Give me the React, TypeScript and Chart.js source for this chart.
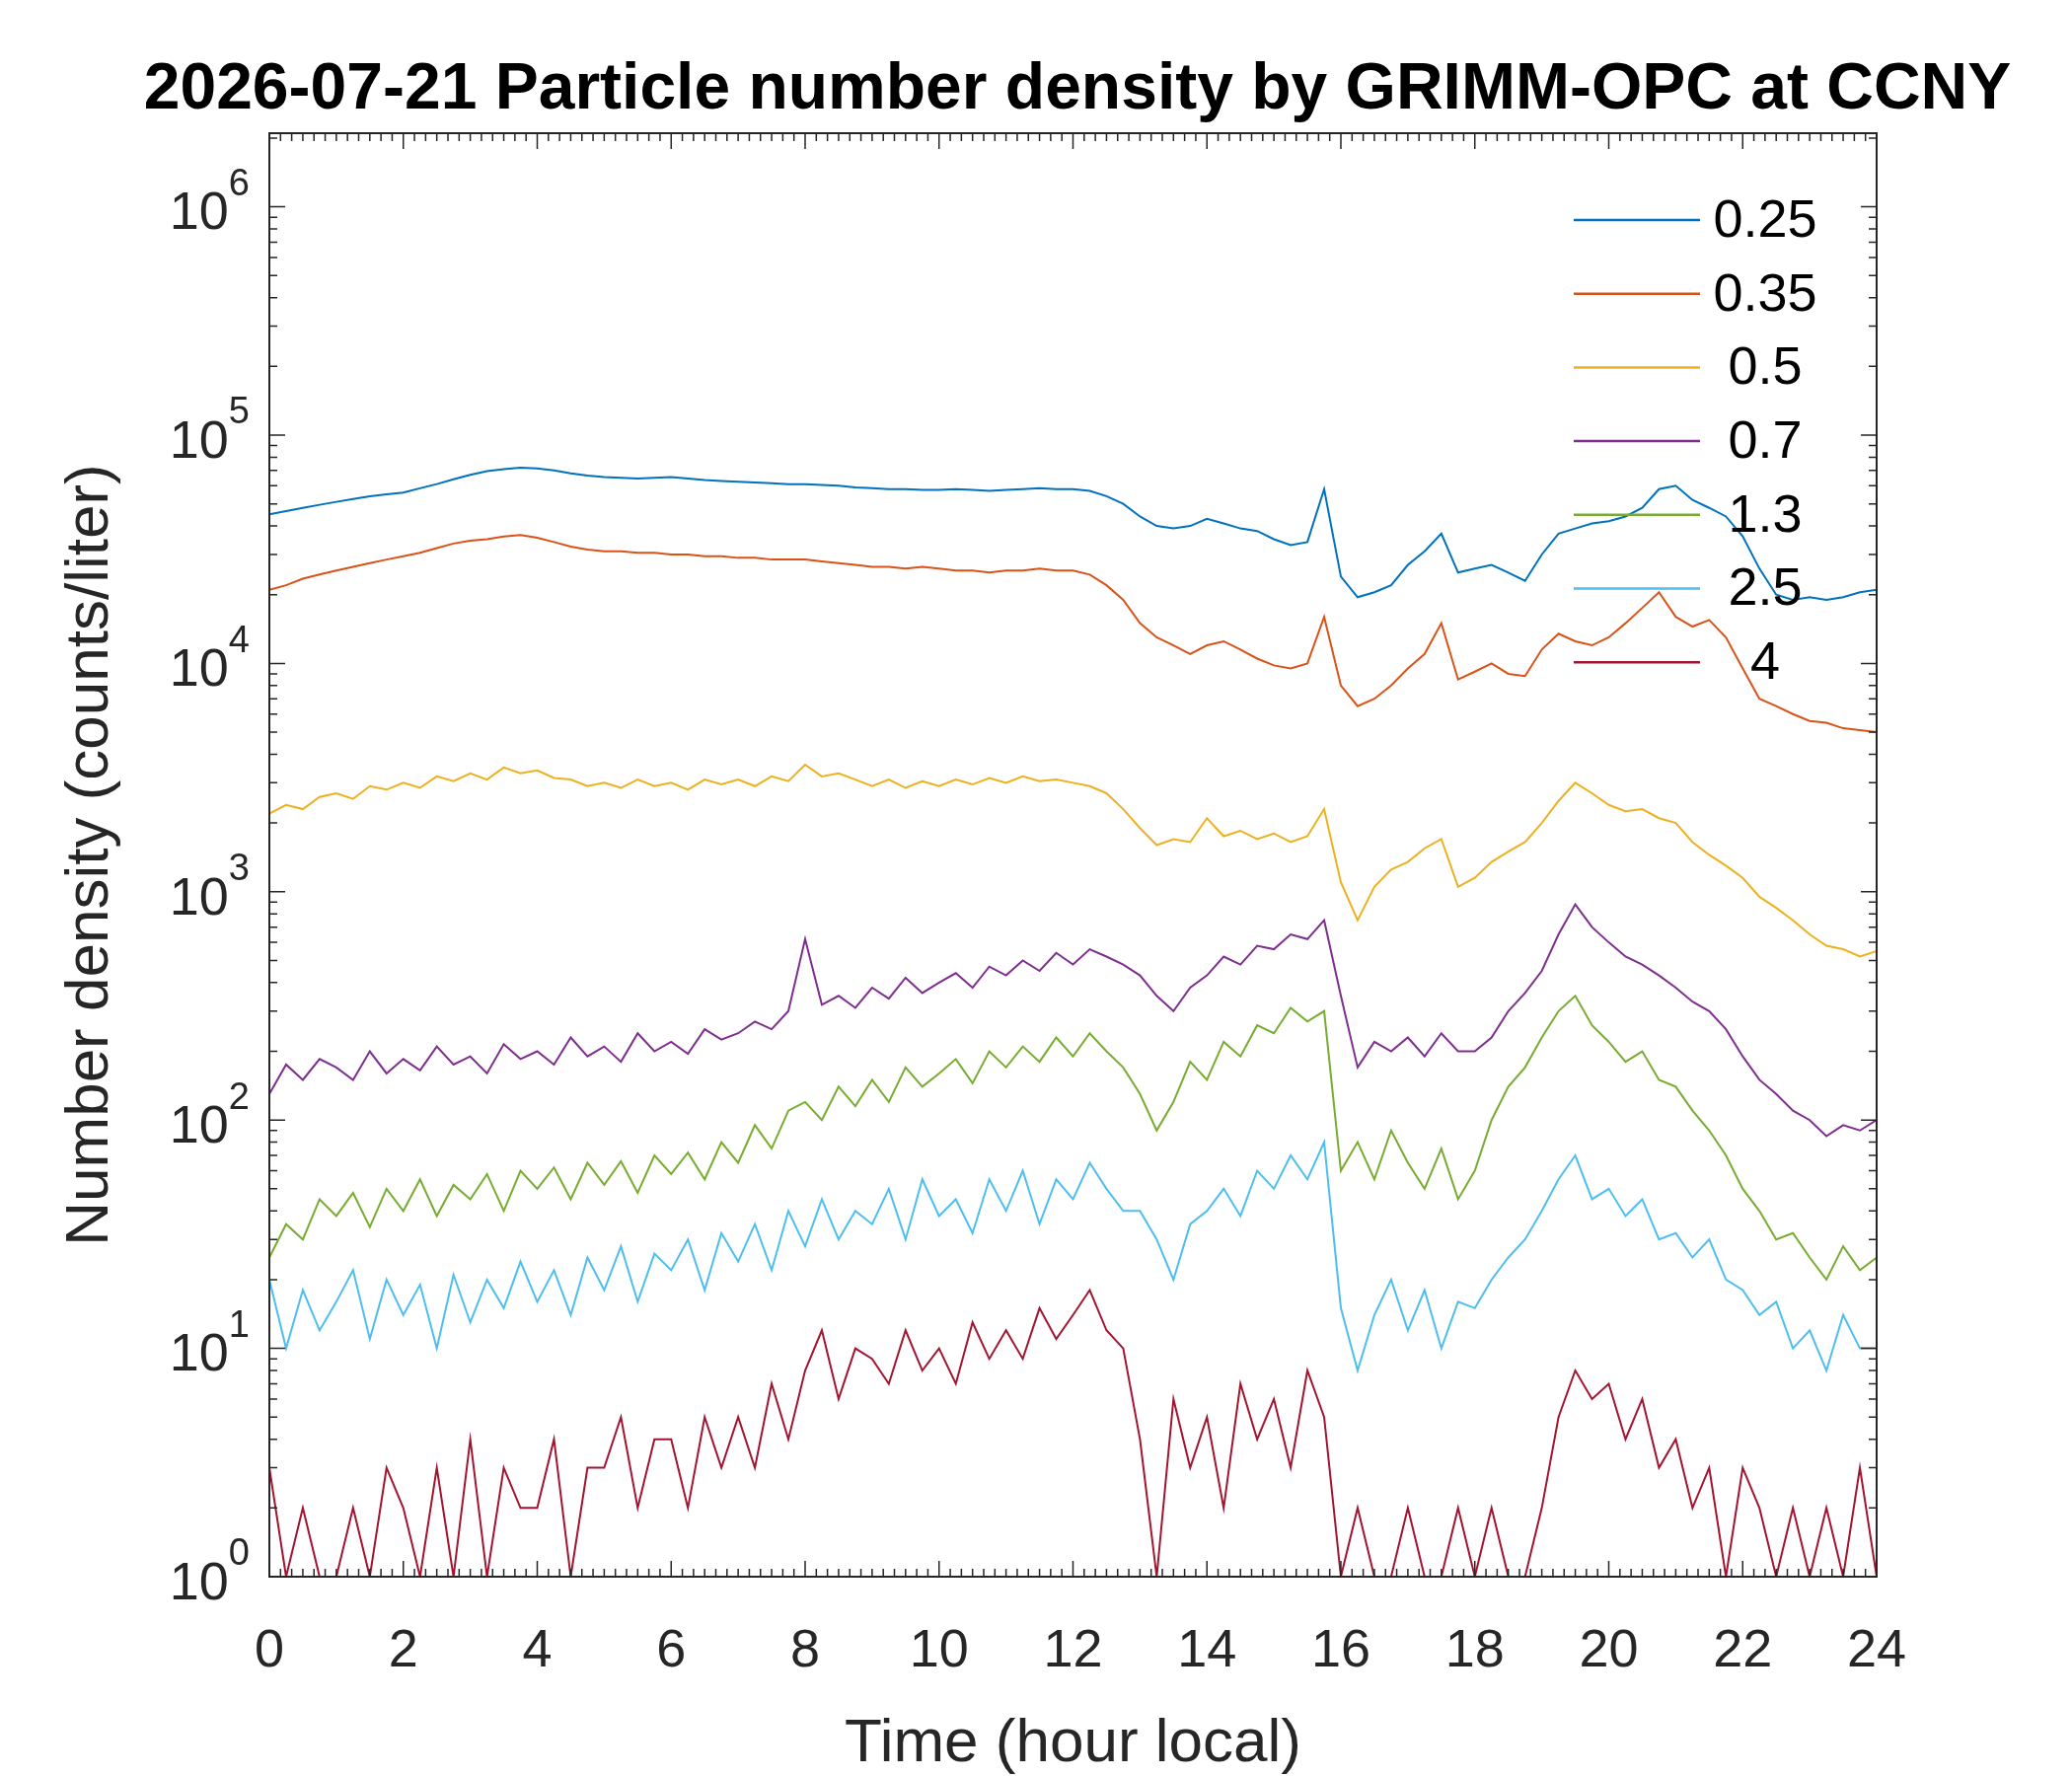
import React, { useEffect, useRef } from "react";
import { Chart, registerables } from "chart.js";
Chart.register(...registerables);

const hours: number[] = Array.from({ length: 97 }, (_, i) => i * 0.25);
const sizeLabels = ["0.25", "0.35", "0.5", "0.7", "1.3", "2.5", "4"];
const colors = ["#0072BD", "#D95319", "#EDB120", "#7E2F8E", "#77AC30", "#4DBEEE", "#A2142F"];
const xTicks = [0, 2, 4, 6, 8, 10, 12, 14, 16, 18, 20, 22, 24];
const yDecades = [0, 1, 2, 3, 4, 5, 6];

const s025 = [45000,46500,48000,49500,51000,52500,54000,55000,56000,58500,61000,64000,67000,69500,71000,72000,71500,70000,68000,66500,65500,65000,64500,65000,65500,64500,63500,63000,62500,62000,61500,61000,61000,60500,60000,59000,58500,58000,58000,57500,57500,58000,57500,57000,57500,58000,58500,58000,58000,57000,54000,50000,44000,40000,39000,40000,43000,41000,39000,38000,35000,33000,34000,58000,24000,19500,20500,22000,27000,31000,37000,25000,26000,27000,25000,23000,30000,37000,39000,41000,42000,44000,48000,58000,60000,52000,48000,44000,36000,26000,20000,19000,19500,19000,19500,20500,21000];
const s035 = [21000,22000,23500,24500,25500,26500,27500,28500,29500,30500,32000,33500,34500,35000,36000,36500,35500,34000,32500,31500,31000,31000,30500,30500,30000,30000,29500,29500,29000,29000,28500,28500,28500,28000,27500,27000,26500,26500,26000,26500,26000,25500,25500,25000,25500,25500,26000,25500,25500,24500,22000,19000,15000,13000,12000,11000,12000,12500,11500,10500,9800,9500,10000,16000,8000,6500,7000,8000,9500,11000,15000,8500,9200,10000,9000,8800,11500,13500,12500,12000,13000,15000,17500,20500,16000,14500,15500,13000,9500,7000,6500,6000,5600,5500,5200,5100,5000];
const s05 = [2200,2400,2300,2600,2700,2550,2900,2800,3000,2850,3200,3050,3300,3100,3500,3300,3400,3150,3100,2900,3000,2850,3100,2900,3000,2800,3100,2950,3100,2900,3200,3050,3600,3200,3300,3100,2900,3100,2850,3050,2900,3100,2950,3150,3000,3200,3050,3100,3000,2900,2700,2300,1900,1600,1700,1650,2100,1750,1850,1700,1800,1650,1750,2300,1100,750,1050,1250,1350,1550,1700,1050,1150,1350,1500,1650,2000,2500,3000,2700,2400,2250,2300,2100,2000,1650,1450,1300,1150,950,850,750,650,580,560,520,550];
const s07 = [130,175,150,185,170,150,200,160,185,165,210,175,190,160,215,185,200,175,230,190,210,180,240,200,220,195,250,225,240,270,250,300,620,320,350,310,380,340,420,360,400,440,380,470,430,500,450,540,480,560,520,480,430,350,300,380,430,520,480,580,560,650,620,750,350,170,220,200,230,190,240,200,200,230,300,360,450,650,880,700,600,520,480,430,380,330,300,250,190,150,130,110,100,85,95,90,100];
const s13 = [25,35,30,45,38,48,34,50,40,55,38,52,45,58,40,60,50,62,45,65,52,66,48,70,58,72,55,80,65,95,75,110,120,100,140,115,150,120,170,140,160,185,145,200,170,210,180,230,190,240,200,170,130,90,120,180,150,220,190,260,240,310,270,300,60,80,55,90,65,50,75,45,60,100,140,170,230,300,350,260,220,180,200,150,140,110,90,70,50,40,30,32,25,20,28,22,25];
const s25 = [20,10,18,12,16,22,11,20,14,19,10,21,13,20,15,24,16,22,14,25,18,28,16,26,22,30,18,32,24,35,22,40,28,45,30,40,35,50,30,55,38,45,32,55,40,60,35,55,45,65,50,40,40,30,20,35,40,50,38,60,50,70,55,80,15,8,14,20,12,18,10,16,15,20,25,30,40,55,70,45,50,38,45,30,32,25,30,20,18,14,16,10,12,8,14,10,10];
const s4 = [3,1,2,1,1,2,1,3,2,1,3,1,4,1,3,2,2,4,1,3,3,5,2,4,4,2,5,3,5,3,7,4,8,12,6,10,9,7,12,8,10,7,13,9,12,9,15,11,14,18,12,10,4,1,6,3,5,2,7,4,6,3,8,5,1,2,1,1,2,1,1,2,1,2,1,1,2,5,8,6,7,4,6,3,4,2,3,1,3,2,1,2,1,2,1,3,1];
const seriesValues = [s025, s035, s05, s07, s13, s25, s4];

const TXT = "#262626";
const FONT = "Arial, 'Liberation Sans', sans-serif";

const framePlugin = {
  id: "frame",
  afterDraw(chart: any) {
    const { ctx, chartArea: a, scales } = chart;
    const x = scales.x, y = scales.y;
    ctx.save();
    ctx.strokeStyle = TXT;
    ctx.lineWidth = 2;
    ctx.strokeRect(a.left, a.top, a.right - a.left, a.bottom - a.top);
    ctx.lineWidth = 1.5;
    for (let v = 0; v <= 24 + 1e-9; v += 1 / 6) {
      const px = x.getPixelForValue(v);
      const major = Math.abs(v / 2 - Math.round(v / 2)) < 1e-6;
      const L = major ? 16 : 8;
      ctx.beginPath();
      ctx.moveTo(px, a.bottom); ctx.lineTo(px, a.bottom - L);
      ctx.moveTo(px, a.top); ctx.lineTo(px, a.top + L);
      ctx.stroke();
    }
    for (let d = 0; d <= 6; d++) {
      for (let m = 1; m <= 9; m++) {
        const v = m * Math.pow(10, d);
        const py = y.getPixelForValue(v);
        if (py < a.top) continue;
        const L = m === 1 ? 16 : 8;
        ctx.beginPath();
        ctx.moveTo(a.left, py); ctx.lineTo(a.left + L, py);
        ctx.moveTo(a.right, py); ctx.lineTo(a.right - L, py);
        ctx.stroke();
      }
    }
    ctx.fillStyle = TXT;
    ctx.font = `54px ${FONT}`;
    ctx.textAlign = "center";
    ctx.textBaseline = "middle";
    xTicks.forEach((t) => ctx.fillText(String(t), x.getPixelForValue(t), a.bottom + 76));
    yDecades.forEach((d) => {
      const py = y.getPixelForValue(Math.pow(10, d));
      ctx.font = `38px ${FONT}`;
      ctx.textAlign = "left";
      const ew = ctx.measureText(String(d)).width;
      ctx.fillText(String(d), a.left - 20 - ew, py - 22);
      ctx.font = `54px ${FONT}`;
      ctx.textAlign = "right";
      ctx.fillText("10", a.left - 20 - ew, py + 8);
    });
    ctx.font = `62px ${FONT}`;
    ctx.textAlign = "center";
    ctx.fillText("Time (hour local)", (a.left + a.right) / 2, 1768);
    ctx.save();
    ctx.translate(92, (a.top + a.bottom) / 2);
    ctx.rotate(-Math.PI / 2);
    ctx.fillText("Number density (counts/liter)", 0, 0);
    ctx.restore();
    ctx.fillStyle = "#000";
    ctx.font = `bold 66px ${FONT}`;
    ctx.fillText("2026-07-21 Particle number density by GRIMM-OPC at CCNY", 1092, 92);
    ctx.font = `54px ${FONT}`;
    sizeLabels.forEach((lab, i) => {
      const ly = 223 + i * 74.7;
      ctx.strokeStyle = colors[i];
      ctx.lineWidth = 2.5;
      ctx.beginPath(); ctx.moveTo(1595, ly); ctx.lineTo(1723, ly); ctx.stroke();
      ctx.fillStyle = "#000";
      ctx.fillText(lab, 1789, ly + 2);
    });
    ctx.restore();
  },
};

export default function App() {
  const ref = useRef<HTMLCanvasElement>(null);
  useEffect(() => {
    document.body.style.margin = "0";
    const chart = new Chart(ref.current!, {
      type: "line",
      data: {
        datasets: seriesValues.map((vals, i) => ({
          label: sizeLabels[i],
          data: vals.map((v, j) => ({ x: hours[j], y: v })),
          borderColor: colors[i],
          borderWidth: 2,
          pointRadius: 0,
          tension: 0,
        })),
      },
      options: {
        animation: false,
        responsive: false,
        layout: { padding: { left: 265, right: 198, top: 135, bottom: 194 } },
        plugins: { legend: { display: false }, tooltip: { enabled: false } },
        scales: {
          x: { type: "linear", min: 0, max: 24, ticks: { display: false }, grid: { display: false }, border: { display: false } },
          y: { type: "logarithmic", min: 1, max: 2.1e6, ticks: { display: false }, grid: { display: false }, border: { display: false } },
        },
      },
      plugins: [framePlugin],
    });
    return () => chart.destroy();
  }, []);
  return <canvas ref={ref} width={2100} height={1800} style={{ width: 2100, height: 1800, display: "block" }} />;
}
